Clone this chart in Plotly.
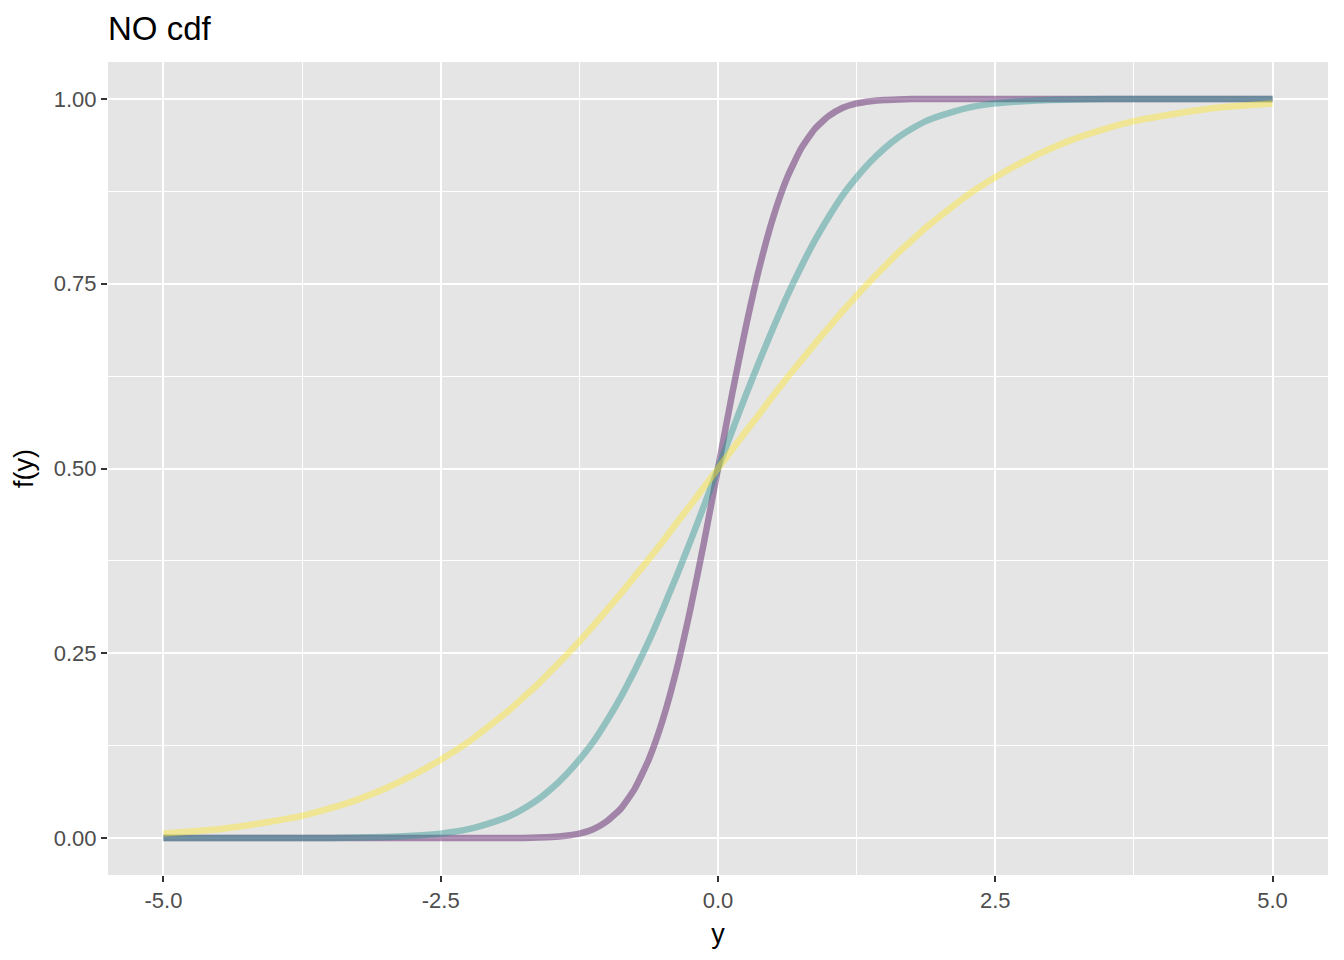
import plotly.graph_objects as go

y_grid = [-5.0, -4.75, -4.5, -4.25, -4.0, -3.75, -3.5, -3.25, -3.0, -2.75, -2.5, -2.25,
          -2.0, -1.875, -1.75, -1.625, -1.5, -1.375, -1.25, -1.125, -1.0, -0.875, -0.75, -0.625,
          -0.5, -0.375, -0.25, -0.125, 0.0, 0.125, 0.25, 0.375, 0.5, 0.625, 0.75, 0.875,
          1.0, 1.125, 1.25, 1.375, 1.5, 1.625, 1.75, 1.875, 2.0,
          2.25, 2.5, 2.75, 3.0, 3.25, 3.5, 3.75, 4.0, 4.25, 4.5, 4.75, 5.0]

cdf_narrow = [0.0, 0.0, 0.0, 0.0, 0.0, 0.0, 0.0, 0.0, 0.0, 0.0, 0.0, 0.0,
              0.0, 0.0001, 0.0002, 0.0006, 0.0013, 0.003, 0.006, 0.012, 0.023, 0.040, 0.067, 0.106,
              0.159, 0.227, 0.309, 0.401, 0.5, 0.599, 0.691, 0.773, 0.841, 0.894, 0.933, 0.960,
              0.977, 0.988, 0.994, 0.997, 0.9987, 0.9994, 0.9998, 0.9999, 1.0,
              1.0, 1.0, 1.0, 1.0, 1.0, 1.0, 1.0, 1.0, 1.0, 1.0, 1.0, 1.0]

cdf_mid = [0.0, 0.0, 0.0, 0.0, 0.0, 0.0, 0.0002, 0.0006, 0.0013, 0.003, 0.006, 0.012,
           0.023, 0.030, 0.040, 0.052, 0.067, 0.085, 0.106, 0.130, 0.159, 0.191, 0.227, 0.266,
           0.309, 0.354, 0.401, 0.450, 0.5, 0.550, 0.599, 0.646, 0.691, 0.734, 0.773, 0.809,
           0.841, 0.870, 0.894, 0.915, 0.933, 0.948, 0.960, 0.970, 0.977,
           0.988, 0.994, 0.997, 0.9987, 0.9994, 0.9998, 1.0, 1.0, 1.0, 1.0, 1.0, 1.0]

cdf_wide = [0.006, 0.009, 0.012, 0.017, 0.023, 0.030, 0.040, 0.052, 0.067, 0.085, 0.106, 0.130,
            0.159, 0.174, 0.191, 0.208, 0.227, 0.246, 0.266, 0.287, 0.309, 0.331, 0.354, 0.377,
            0.401, 0.426, 0.450, 0.475, 0.5, 0.525, 0.550, 0.574, 0.599, 0.623, 0.646, 0.669,
            0.691, 0.713, 0.734, 0.754, 0.773, 0.792, 0.809, 0.826, 0.841,
            0.870, 0.894, 0.915, 0.933, 0.948, 0.960, 0.970, 0.977, 0.983, 0.988, 0.991, 0.994]

series = [
    ("narrow", cdf_narrow, "#440154"),
    ("mid", cdf_mid, "#21908C"),
    ("wide", cdf_wide, "#FDE725"),
]

FONT = "Liberation Sans, Arial, sans-serif"

fig = go.Figure()
for name, vals, col in series:
    fig.add_trace(go.Scatter(x=y_grid, y=vals, mode="lines", name=name,
                             line=dict(color=col, width=6.5, shape="spline", smoothing=0.5),
                             opacity=0.42, showlegend=False))

axis_common = dict(showline=False, zeroline=False, gridcolor="white", gridwidth=2,
                   ticks="outside", ticklen=6, tickwidth=2, tickcolor="#333333",
                   tickfont=dict(family=FONT, size=22, color="#4d4d4d"))

fig.update_layout(
    width=1344, height=960,
    paper_bgcolor="white", plot_bgcolor="#e5e5e5",
    margin=dict(l=100, r=24, t=54, b=93),
    title=dict(text="NO cdf", x=0, xref="paper", xanchor="left",
               y=1 - 20 / 960, yref="container", yanchor="middle",
               font=dict(family=FONT, size=33, color="black")),
    xaxis=dict(range=[-5.5, 5.5], tickvals=[-5, -2.5, 0, 2.5, 5],
               ticktext=["-5.0", "-2.5", "0.0", "2.5", "5.0"],
               title=dict(text="y", font=dict(family=FONT, size=27, color="black"), standoff=11),
               minor=dict(tickvals=[-3.75, -1.25, 1.25, 3.75], ticks="", showgrid=True,
                          gridcolor="white", gridwidth=1),
               **axis_common),
    yaxis=dict(range=[-0.05, 1.05], tickvals=[0, 0.25, 0.5, 0.75, 1.0],
               ticktext=["0.00", "0.25", "0.50", "0.75", "1.00"],
               title=dict(text="f(y)", font=dict(family=FONT, size=27, color="black"), standoff=12),
               minor=dict(tickvals=[0.125, 0.375, 0.625, 0.875], ticks="", showgrid=True,
                          gridcolor="white", gridwidth=1),
               **axis_common),
)

fig.write_html("out.html")
